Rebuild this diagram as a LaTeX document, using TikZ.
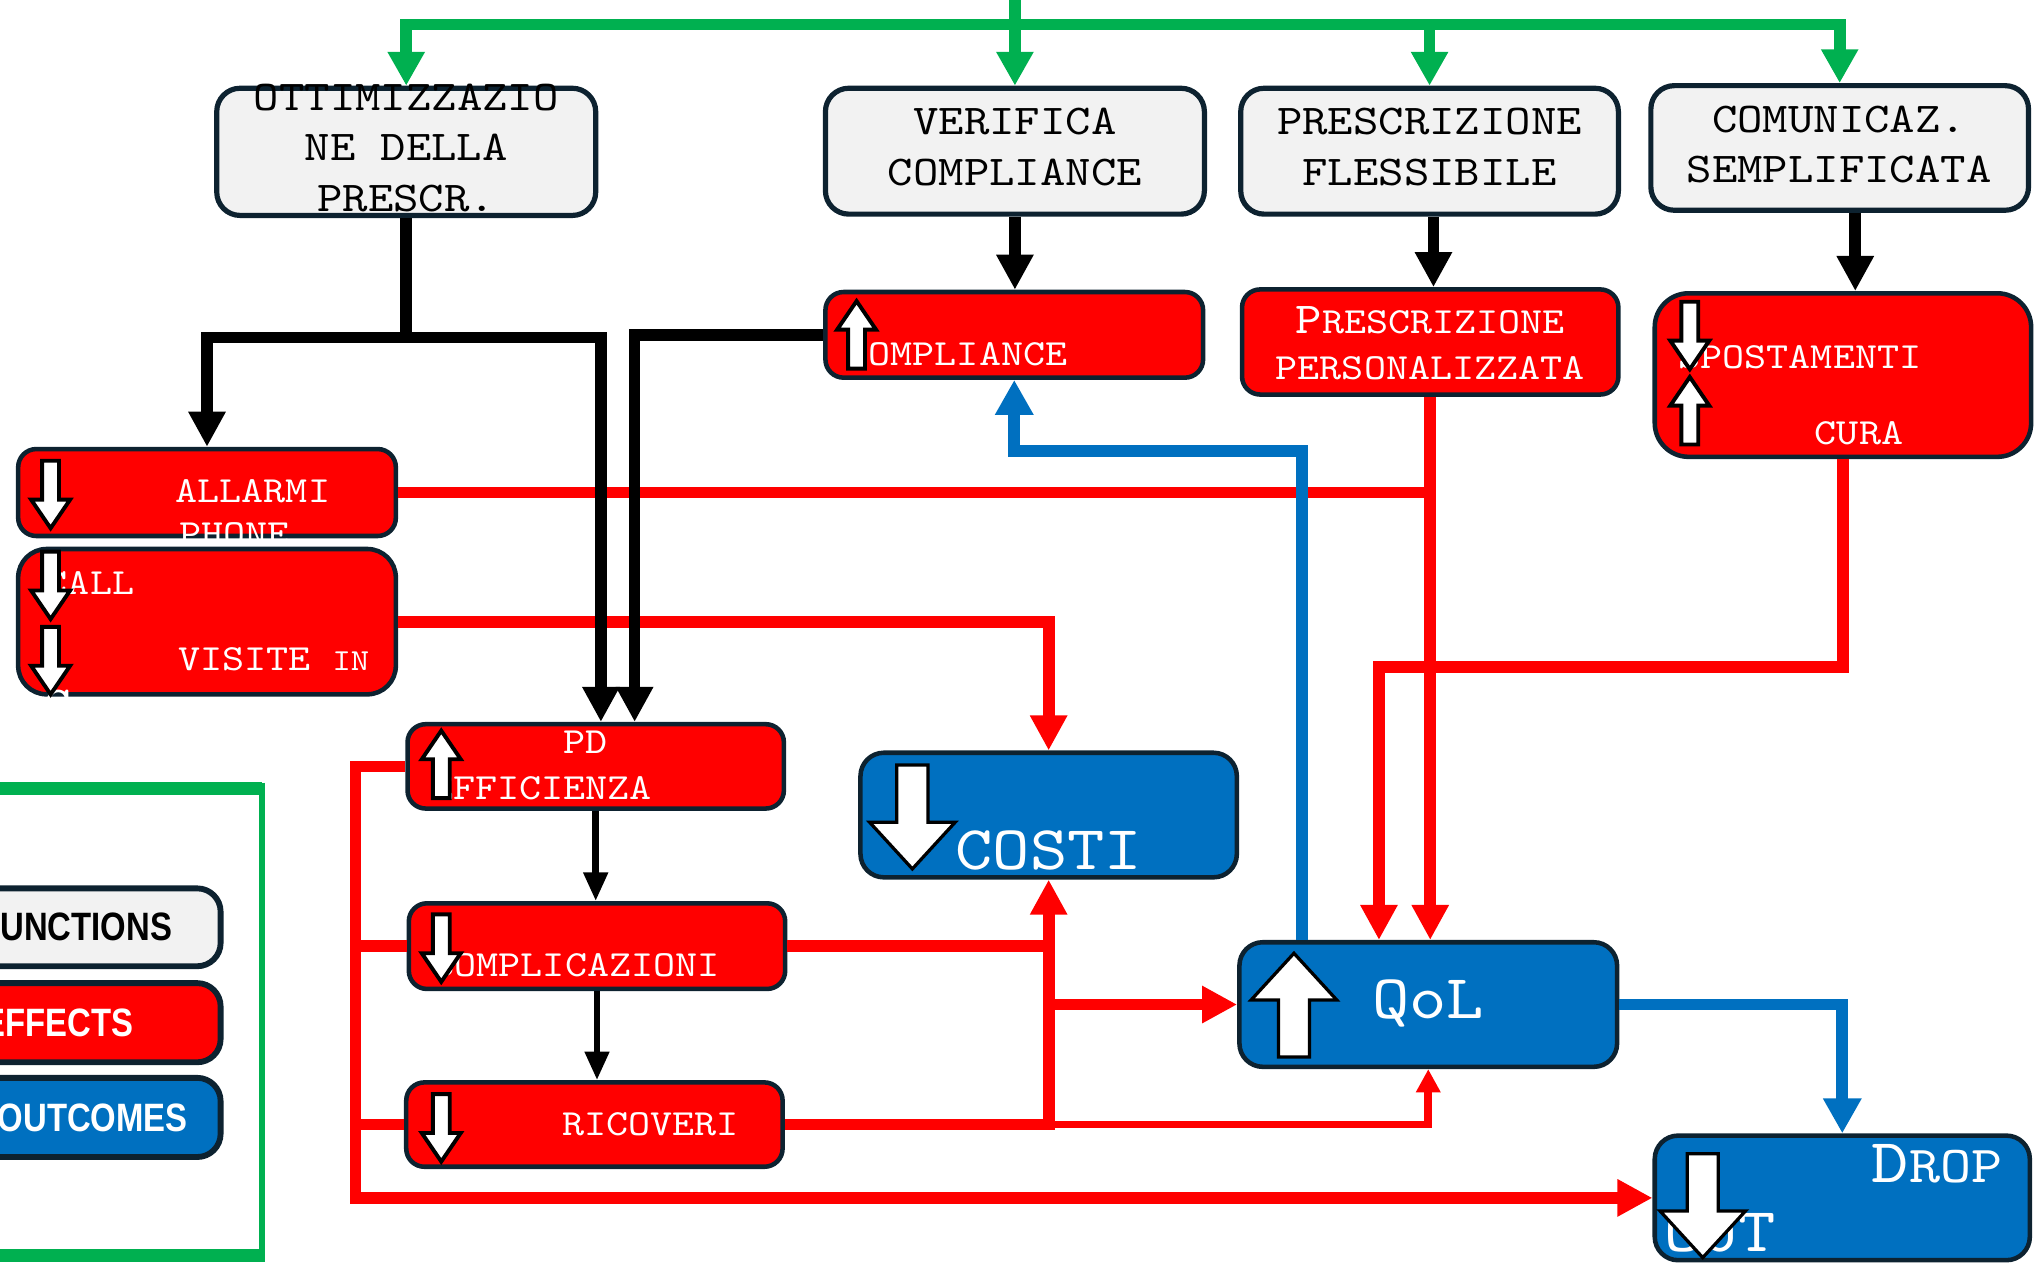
\documentclass[tikz,border=0pt]{standalone}
\usepackage{fontspec}
\newfontfamily\boxfont[Extension=.otf, FakeStretch=1.14]{lmmono10-regular}
\newfontfamily\legfont[FakeStretch=0.83]{Liberation Sans}
\usetikzlibrary{arrows.meta}

\definecolor{boxline}{HTML}{0D2230}
\definecolor{funcgray}{HTML}{F2F2F2}
\definecolor{effred}{HTML}{FF0000}
\definecolor{outblue}{HTML}{0070C0}
\definecolor{framegreen}{HTML}{00B050}

\tikzset{every picture/.style={line width=0.75pt}}
\tikzset{
  funcbox/.style={draw=boxline, line width=4pt, fill=funcgray, rounded corners=18pt, inner sep=0pt},
  effbox/.style={draw=boxline, line width=3.5pt, fill=effred, rounded corners=14pt, inner sep=0pt},
  outbox/.style={draw=boxline, line width=3.5pt, fill=outblue, rounded corners=18pt, inner sep=0pt},
  functext/.style={inner sep=0pt, align=center, font=\boxfont\fontsize{32.7}{39}\selectfont},
  efftext/.style={inner sep=0pt, text=white, font=\boxfont\fontsize{28.4}{36}\selectfont},
  outtext/.style={inner sep=0pt, text=white, font=\boxfont\fontsize{48}{52}\selectfont},
  legtext/.style={inner sep=0pt, anchor=east, font=\legfont\bfseries\fontsize{30.5}{34}\selectfont},
  greenflow/.style={draw=framegreen, line width=9pt, -{Triangle[length=26pt,width=27pt]}},
  blackbar/.style={draw=black, line width=9pt},
  blackflow/.style={blackbar, -{Triangle[length=27pt,width=27pt]}},
  thinflow/.style={draw=black, line width=5pt, -{Triangle[length=22pt,width=18pt]}},
  redbar/.style={draw=effred, line width=9pt},
  redflow/.style={redbar, -{Triangle[length=27pt,width=27pt]}},
  redthin/.style={draw=effred, line width=6pt, -{Triangle[length=18pt,width=18pt]}},
  blueflow/.style={draw=outblue, line width=9pt, -{Triangle[length=27pt,width=28pt]}},
  % pics are drawn without the picture's y flip: negative y points down here
  smalldown/.pic={\draw[fill=white, line width=3pt] (-6.5,26) -- (6.5,26) -- (6.5,-4) -- (15,-4) -- (0,-26) -- (-15,-4) -- (-6.5,-4) -- cycle;},
  bigdown/.pic={\draw[fill=white, line width=2.5pt] (-12,40) -- (12,40) -- (12,-4) -- (33,-4) -- (0,-40) -- (-33,-4) -- (-12,-4) -- cycle;},
}

\begin{document}
\begin{tikzpicture}[x=1pt,y=1pt,yscale=-1,xscale=1]
\useasboundingbox (0,0) rectangle (1568,976);
\clip (0,0) rectangle (1568,976);

%Functions
\node[funcbox, minimum width=292pt, minimum height=98pt] (opt) at (313,117) {};
\node[funcbox, minimum width=292pt, minimum height=97pt] (verif) at (782,116.5) {};
\node[funcbox, minimum width=291pt, minimum height=97pt] (flex) at (1101.5,116.5) {};
\node[funcbox, minimum width=291pt, minimum height=96pt] (comm) at (1417.5,114) {};

%Effects
\node[effbox, minimum width=291pt, minimum height=66pt] (compl) at (781.5,258) {};
\node[effbox, minimum width=290pt, minimum height=81pt] (pers) at (1102,263.5) {};
\node[effbox, rounded corners=26pt, minimum width=290pt, minimum height=126pt] (spost) at (1420,289) {};
\node[effbox, minimum width=291pt, minimum height=67pt] (allarmi) at (159.5,379.5) {};
\node[effbox, rounded corners=22pt, minimum width=291pt, minimum height=112pt] (call) at (159.5,479) {};
\node[effbox, minimum width=290pt, minimum height=65pt] (pd) at (459,590.5) {};
\node[effbox, minimum width=290pt, minimum height=66pt] (compli) at (460,729) {};
\node[effbox, minimum width=290pt, minimum height=65pt] (ricov) at (458,866.5) {};

%Outcomes
\node[outbox, minimum width=290pt, minimum height=96pt] (costi) at (808,628) {};
\node[outbox, minimum width=291pt, minimum height=96pt] (qol) at (1100.5,774) {};
\node[outbox, minimum width=289pt, minimum height=96pt] (drop) at (1419.5,923) {};

%Red connectors
\coordinate (lb) at (274,590);
\draw[redbar] (allarmi.east) -- (allarmi.east -| pers.south);
\draw[redflow] (pers.south) -- (pers.south |- qol.north);
\draw[redflow] (call.east) -| (costi.north);
\draw[redflow] (spost.south) -- ++(0,160) -| ([xshift=-38pt]qol.north);
\draw[redflow] (compli.east) -| (costi.south);
\draw[redbar] (ricov.east) -- (ricov.east -| costi.south) -- (compli.east -| costi.south);
\draw[redflow] (qol.west -| costi.south) -- (qol.west);
\draw[redthin] (ricov.east -| costi.south) -| (qol.south);
\draw[redflow] (pd.west) -- (pd.west -| lb) |- (drop.west);
\draw[redbar] (compli.west) -- (compli.west -| lb);
\draw[redbar] (ricov.west) -- (ricov.west -| lb);

%Blue connectors
\draw[blueflow] ([xshift=-97.5pt]qol.north) -- ++(0,-377) -| (compl.south);
\draw[blueflow] (qol.east) -| (drop.north);

%Black connectors
\draw[blackbar] (opt.south) -- ++(0,92) coordinate (optfork);
\draw[blackflow] (optfork) -| (allarmi.north);
\draw[blackflow] (optfork) -| ([xshift=4pt]pd.north);
\draw[blackflow] (compl.west) -| ([xshift=30pt]pd.north);
\draw[blackflow] (verif.south) -- (verif.south |- compl.north);
\coordinate (flexout) at ([xshift=3pt]flex.south);
\draw[blackflow] (flexout) -- (flexout |- pers.north);
\coordinate (commout) at ([xshift=12pt]comm.south);
\draw[blackflow] (commout) -- (commout |- spost.north);
\draw[thinflow] (pd.south) -- (pd.south |- compli.north);
\draw[thinflow] (compli.south) -- (compli.south |- ricov.north);

%Green connectors
\coordinate (gsrc) at (782,-10);
\coordinate (gbar) at (782,19);
\draw[greenflow] (gsrc) -- (verif.north);
\draw[greenflow] (gbar) -| (opt.north);
\draw[greenflow] (gbar) -| (flex.north);
\draw[greenflow] (gbar) -| (comm.north);

% Text Node
\node[functext] (topt) at (313,114) {OTTIMIZZAZIO\\NE DELLA\\PRESCR.};
\node[functext] (tverif) at (782,113.5) {VERIFICA\\COMPLIANCE};
\node[functext] (tflex) at (1101.5,113.5) {PRESCRIZIONE\\FLESSIBILE};
\node[functext] (tcomm) at (1417,111.5) {COMUNICAZ.\\SEMPLIFICATA};
% Text Node
\node[efftext, anchor=west] (tcompl) at (652,273) {COMPLIANCE};
\node[efftext, align=center] (tpers) at (1102,264.5) {{\fontsize{34}{36}\selectfont P}RESCRIZIONE\\PERSONALIZZATA};
\node[efftext, anchor=west] (tspost) at (1293,275) {SPOSTAMENTI};
\node[efftext, anchor=west] (tcura) at (1398,334) {CURA};
\node[efftext, anchor=west] (tallarmi) at (135,378.5) {ALLARMI};
\node[efftext, anchor=west] (tphone) at (138,412) {PHONE};
\node[efftext, anchor=west] (tcall) at (35,449) {CALL};
\node[efftext, anchor=base west] (tvisite) at (137,516.5) {VISITE {\fontsize{23.5}{26}\selectfont IN}};
\node[efftext, anchor=base west] (tcentro) at (34,553) {{\fontsize{34}{36}\selectfont C}{\fontsize{23.5}{26}\selectfont ENTRO}};
\node[efftext] (tpd) at (451,572) {PD};
\node[efftext, anchor=west] (teff) at (332,607) {EFFICIENZA};
\node[efftext, anchor=west] (tcompli) at (333,744) {COMPLICAZIONI};
\node[efftext, anchor=west] (tricov) at (433,866) {RICOVERI};
% Text Node
\node[outtext, anchor=base west] (tcosti) at (736,670) {COSTI};
\node[outtext, anchor=base west] (tqol) at (1057,785) {QoL};
\node[outtext, anchor=base west] (tdrop) at (1442,911) {D{\fontsize{40}{44}\selectfont ROP}};
\node[outtext, anchor=base west] (tout) at (1282,964) {OUT};

%Icons
\pic at (39,381) {smalldown};
\pic at (39,451) {smalldown};
\pic at (39,509) {smalldown};
\pic[rotate=180] at (340,589) {smalldown};
\pic at (340,730.5) {smalldown};
\pic at (340,869) {smalldown};
\pic[rotate=180] at (660,258) {smalldown};
\pic at (1302,258.5) {smalldown};
\pic[rotate=180] at (1302,316.5) {smalldown};
\pic at (703,629.5) {bigdown};
\pic[rotate=180] at (997,774.5) {bigdown};
\pic at (1312,929) {bigdown};

%Legend
\draw[draw=framegreen, line width=9.5pt] (-30,607.5) -- (202,607.5) (-30,967.5) -- (202,967.5);
\draw[draw=framegreen, line width=4.6pt] (202,603) -- (202,972);
\node[funcbox, line width=4.5pt, minimum width=296pt, minimum height=60pt] (legfunc) at (22,714.5) {};
\node[effbox, line width=4.5pt, rounded corners=18pt, minimum width=296pt, minimum height=61pt] (legeff) at (22,788) {};
\node[outbox, line width=4.5pt, minimum width=296pt, minimum height=61pt] (legout) at (22,861) {};
\node[legtext] (tlegfunc) at (133,714) {FUNCTIONS};
\node[legtext, text=white] (tlegeff) at (103,788) {EFFECTS};
\node[legtext, text=white] (tlegout) at (145,861) {OUTCOMES};

\end{tikzpicture}
\end{document}
